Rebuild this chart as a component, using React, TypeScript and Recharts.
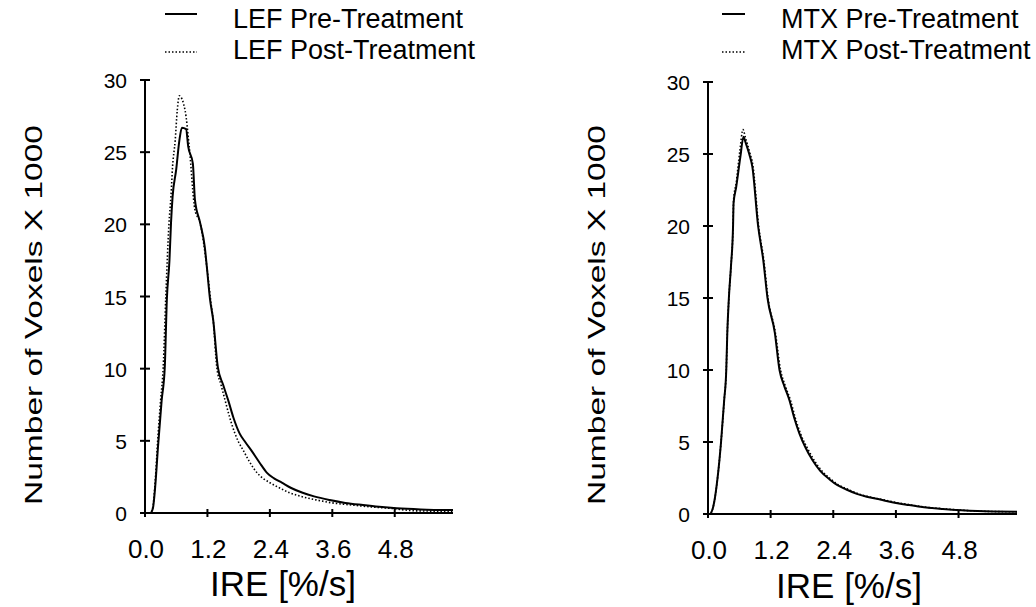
import React from "react";
import { LineChart, Line, XAxis, YAxis } from "recharts";

const xTicks = [0, 1.2, 2.4, 3.6, 4.8];
const yTicks = [0, 5, 10, 15, 20, 25, 30];
const xMax = 5.92;

// LEF group (IRE %/s, voxels x 1000)
const lefPreIre = [0, 0.1, 0.15, 0.2, 0.25, 0.32, 0.38, 0.42, 0.47, 0.5, 0.53, 0.6, 0.66, 0.71, 0.79, 0.83, 0.92, 0.96, 1.06, 1.15, 1.19, 1.25, 1.31, 1.4, 1.5, 1.6, 1.7, 1.82, 1.93, 2.05, 2.2, 2.34, 2.48, 2.63, 2.8, 3.03, 3.25, 3.55, 3.85, 4.19, 4.5, 4.84, 5.3, 5.92];
const lefPreVox = [0, 0, 0.3, 2, 4.6, 7.8, 10.1, 14.8, 17.5, 20.1, 21.9, 23.8, 25.8, 26.7, 26.6, 25.4, 24.2, 21.7, 20.1, 18.4, 17.0, 14.8, 13.4, 10.1, 8.9, 7.8, 6.6, 5.5, 4.9, 4.3, 3.5, 2.8, 2.4, 2.1, 1.75, 1.4, 1.15, 0.9, 0.7, 0.55, 0.43, 0.33, 0.25, 0.2];

const lefPostIre = [0, 0.1, 0.15, 0.2, 0.24, 0.3, 0.35, 0.4, 0.46, 0.5, 0.53, 0.58, 0.62, 0.66, 0.77, 0.85, 0.96, 1.06, 1.19, 1.27, 1.31, 1.38, 1.46, 1.54, 1.63, 1.73, 1.8, 1.88, 2.0, 2.15, 2.27, 2.4, 2.58, 2.78, 3.0, 3.3, 3.6, 3.99, 4.35, 4.7, 5.2, 5.92];
const lefPostVox = [0, 0, 0.4, 2.4, 4.8, 7.8, 10.1, 15, 20, 22, 24, 25.8, 27.9, 28.9, 27.9, 25.4, 21.0, 20.1, 17.0, 14.5, 13.4, 10.1, 8.9, 7.8, 6.6, 5.5, 4.9, 4.4, 3.6, 2.8, 2.4, 2.1, 1.75, 1.4, 1.15, 0.9, 0.7, 0.55, 0.42, 0.33, 0.15, 0.12];

// MTX group
const mtxPreIre = [0, 0.03, 0.1, 0.18, 0.25, 0.31, 0.35, 0.37, 0.4, 0.44, 0.48, 0.49, 0.54, 0.62, 0.68, 0.72, 0.79, 0.85, 0.96, 1.06, 1.14, 1.28, 1.37, 1.46, 1.56, 1.65, 1.75, 1.87, 2.0, 2.15, 2.33, 2.48, 2.65, 2.85, 3.04, 3.3, 3.55, 3.8, 4.07, 4.5, 5.16, 5.92];
const mtxPreVox = [0, 0, 0.5, 2.4, 5, 7.9, 10, 12.6, 15, 17.2, 20, 21.6, 22.7, 24.8, 26.2, 25.8, 25, 24.1, 20, 17.6, 15, 12.6, 10, 8.9, 7.9, 6.7, 5.6, 4.6, 3.75, 3.0, 2.4, 2.0, 1.7, 1.4, 1.2, 1.0, 0.8, 0.65, 0.5, 0.35, 0.2, 0.15];

const mtxPostIre = [0, 0.03, 0.1, 0.18, 0.25, 0.31, 0.35, 0.37, 0.4, 0.44, 0.48, 0.49, 0.54, 0.61, 0.67, 0.72, 0.8, 0.86, 0.97, 1.07, 1.15, 1.29, 1.39, 1.48, 1.58, 1.67, 1.77, 1.9, 2.03, 2.18, 2.36, 2.51, 2.69, 2.88, 3.08, 3.34, 3.6, 3.85, 4.12, 4.55, 5.2, 5.92];
const mtxPostVox = [0, 0, 0.5, 2.4, 5, 7.9, 10, 12.6, 15, 17.2, 20, 21.8, 23.0, 25.2, 26.7, 26.1, 25.1, 24.2, 20, 17.6, 15, 12.6, 10, 8.9, 7.9, 6.7, 5.6, 4.6, 3.75, 3.0, 2.4, 2.0, 1.7, 1.4, 1.2, 1.0, 0.8, 0.65, 0.5, 0.35, 0.2, 0.15];

const FONT = "'Liberation Sans', Arial, Helvetica, sans-serif";

const toRows = (xs: number[], ys: number[]) => xs.map((x, i) => ({ ire: x, vox: ys[i] }));

const XTick = (props: any) => {
  const { x, y, payload } = props;
  return (
    <g>
      <line x1={x} x2={x} y1={y - 4} y2={y + 4} stroke="#000" strokeWidth={2} />
      <text x={x + 1} y={y + 45} textAnchor="middle" fontSize={26} fontFamily={FONT} fill="#000">
        {Number(payload.value).toFixed(1)}
      </text>
    </g>
  );
};

const YTick = (props: any) => {
  const { x, y, payload } = props;
  return (
    <g>
      <line x1={x - 5} x2={x + 5} y1={y} y2={y} stroke="#000" strokeWidth={2} />
      <text x={x - 18} y={y + 8} textAnchor="end" fontSize={21} fontFamily={FONT} fill="#000">
        {payload.value}
      </text>
    </g>
  );
};

interface PanelProps {
  pre: { ire: number; vox: number }[];
  post: { ire: number; vox: number }[];
  left: number;
  margin: { top: number; right: number; bottom: number; left: number };
}

const Panel: React.FC<PanelProps> = ({ pre, post, left, margin }) => (
  <div style={{ position: "absolute", left, top: 0 }}>
    <LineChart width={518} height={607} margin={margin}>
      <XAxis
        type="number"
        dataKey="ire"
        domain={[0, xMax]}
        ticks={xTicks}
        allowDataOverflow
        height={1}
        tickSize={0}
        tickMargin={0}
        tickLine={false}
        axisLine={{ stroke: "#000", strokeWidth: 2 }}
        tick={XTick}
        interval={0}
      />
      <YAxis
        type="number"
        domain={[0, 30]}
        ticks={yTicks}
        width={1}
        tickSize={0}
        tickMargin={0}
        tickLine={false}
        axisLine={{ stroke: "#000", strokeWidth: 2 }}
        tick={YTick}
        interval={0}
      />
      <Line
        data={post}
        dataKey="vox"
        type="monotone"
        stroke="#000"
        strokeWidth={1.6}
        strokeDasharray="1.5 2"
        dot={false}
        isAnimationActive={false}
      />
      <Line
        data={pre}
        dataKey="vox"
        type="monotone"
        stroke="#000"
        strokeWidth={2}
        dot={false}
        isAnimationActive={false}
      />
    </LineChart>
  </div>
);

const App: React.FC = () => (
  <div style={{ position: "absolute", left: 0, top: 0, width: 1036, height: 607, background: "#fff", overflow: "hidden" }}>
    <Panel
      pre={toRows(lefPreIre, lefPreVox)}
      post={toRows(lefPostIre, lefPostVox)}
      left={0}
      margin={{ top: 80, right: 65, bottom: 93, left: 144 }}
    />
    <Panel
      pre={toRows(mtxPreIre, mtxPreVox)}
      post={toRows(mtxPostIre, mtxPostVox)}
      left={518}
      margin={{ top: 82, right: 19, bottom: 92, left: 189 }}
    />
    <svg width={1036} height={607} style={{ position: "absolute", left: 0, top: 0, pointerEvents: "none" }}>
      <g fontFamily={FONT} fill="#000">
        {/* legends */}
        <line x1={165} x2={197} y1={14} y2={14} stroke="#000" strokeWidth={2} />
        <line x1={165} x2={197} y1={52} y2={52} stroke="#000" strokeWidth={1.6} strokeDasharray="1.5 2" />
        <text x={233} y={28} fontSize={27}>LEF Pre-Treatment</text>
        <text x={233} y={59} fontSize={27}>LEF Post-Treatment</text>
        <line x1={722} x2={745} y1={14} y2={14} stroke="#000" strokeWidth={2} />
        <line x1={722} x2={745} y1={52} y2={52} stroke="#000" strokeWidth={1.6} strokeDasharray="1.5 2" />
        <text x={781} y={28} fontSize={27}>MTX Pre-Treatment</text>
        <text x={781} y={59} fontSize={27}>MTX Post-Treatment</text>
        {/* axis titles */}
        <text x={42} y={315} fontSize={24} textAnchor="middle" transform="rotate(-90 42 315)" textLength={380} lengthAdjust="spacingAndGlyphs">
          Number of Voxels X 1000
        </text>
        <text x={605} y={315} fontSize={24} textAnchor="middle" transform="rotate(-90 605 315)" textLength={380} lengthAdjust="spacingAndGlyphs">
          Number of Voxels X 1000
        </text>
        <text x={283} y={596} fontSize={35} textAnchor="middle">IRE [%/s]</text>
        <text x={849} y={598} fontSize={35} textAnchor="middle">IRE [%/s]</text>
      </g>
    </svg>
  </div>
);

export default App;
